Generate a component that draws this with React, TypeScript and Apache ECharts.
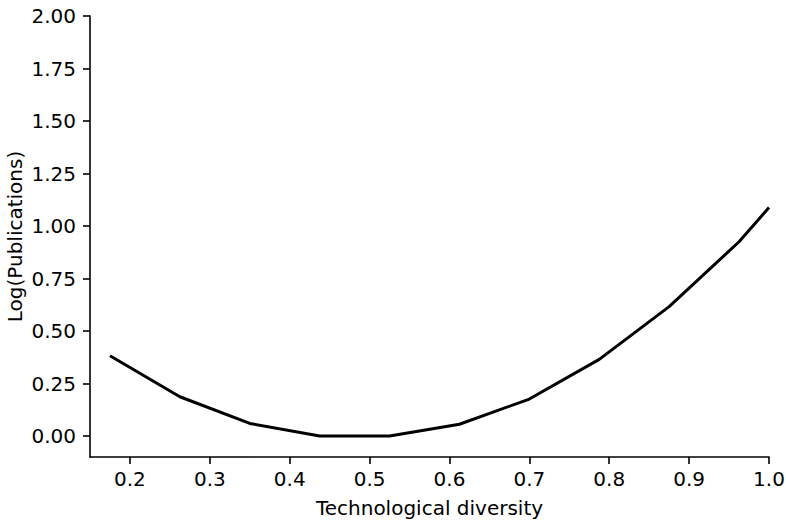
import React, { useEffect, useRef } from "react";
import * as echarts from "echarts";

const diversity = [0.175, 0.2625, 0.35, 0.4375, 0.525, 0.6125, 0.7, 0.7875, 0.875, 0.9625, 1.0];
const logPublications = [0.382, 0.187, 0.06, 0.0, 0.0, 0.056, 0.176, 0.365, 0.616, 0.925, 1.088];
const xTicks = [0.2, 0.3, 0.4, 0.5, 0.6, 0.7, 0.8, 0.9, 1.0];
const yTicks = [0, 0.25, 0.5, 0.75, 1.0, 1.25, 1.5, 1.75, 2.0];

const FONT = "'DejaVu Sans', sans-serif";

export default function App() {
  const ref = useRef<HTMLDivElement>(null);
  useEffect(() => {
    if (!ref.current) return;
    const chart = echarts.init(ref.current, undefined, { renderer: "svg" });
    const axisCommon = {
      splitLine: { show: false },
      nameMoveOverlap: false,
      nameTextStyle: { color: "#000", fontSize: 20, fontFamily: FONT },
    };
    const lineStyle = { color: "#000", width: 1.6 };
    chart.setOption({
      animation: false,
      backgroundColor: "#fff",
      grid: {
        left: 90,
        right: 17,
        top: 16,
        bottom: 63,
        containLabel: false,
        outerBoundsMode: "none",
      },
      xAxis: {
        type: "value",
        min: 0.15,
        max: 1.0,
        name: "Technological diversity",
        nameLocation: "middle",
        nameGap: 41,
        ...axisCommon,
        axisLine: { show: true, onZero: false, lineStyle },
        axisTick: { show: true, length: 7, lineStyle, customValues: xTicks },
        axisLabel: {
          customValues: xTicks,
          color: "#000",
          fontSize: 20,
          fontFamily: FONT,
          margin: 12,
          formatter: (v: number) => v.toFixed(1),
        },
      },
      yAxis: {
        type: "value",
        min: -0.1,
        max: 2.0,
        name: "Log(Publications)",
        nameLocation: "middle",
        nameGap: 65,
        ...axisCommon,
        axisLine: { show: true, onZero: false, lineStyle },
        axisTick: { show: true, length: 7, lineStyle, customValues: yTicks },
        axisLabel: {
          customValues: yTicks,
          color: "#000",
          fontSize: 20,
          fontFamily: FONT,
          margin: 14,
          formatter: (v: number) => v.toFixed(2),
        },
      },
      series: [
        {
          type: "line",
          data: diversity.map((x, i) => [x, logPublications[i]]),
          showSymbol: false,
          symbol: "none",
          lineStyle: { color: "#000", width: 3 },
          clip: true,
        },
      ],
    });
    return () => chart.dispose();
  }, []);
  return (
    <div
      ref={ref}
      style={{ position: "fixed", left: 0, top: 0, width: 786, height: 520 }}
    />
  );
}
